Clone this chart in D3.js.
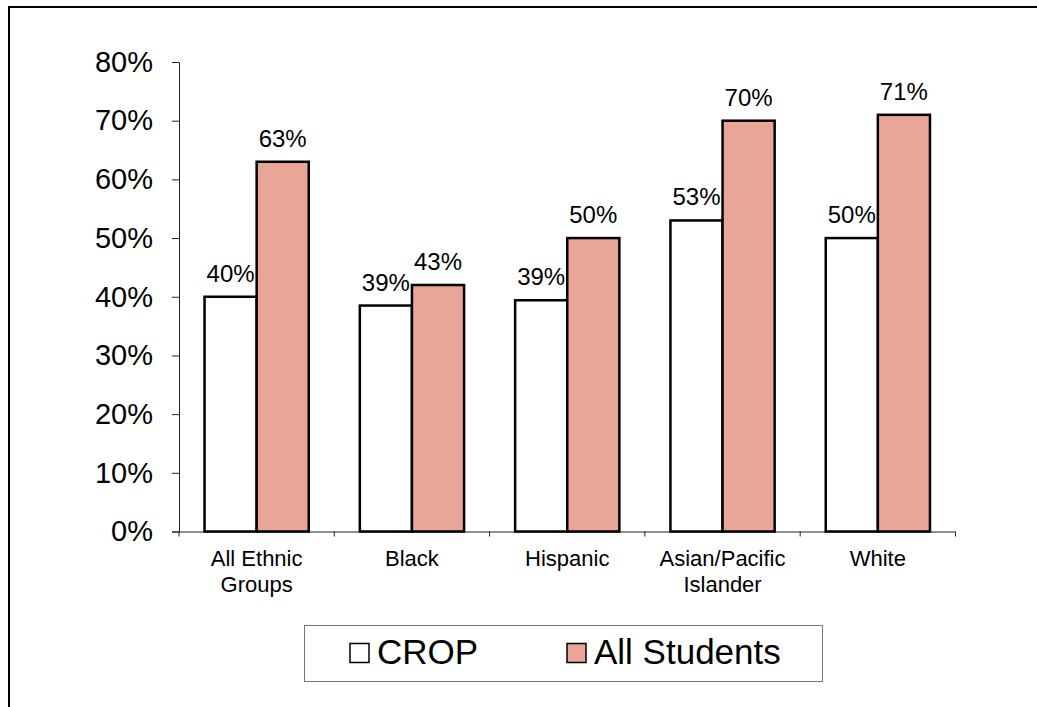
<!DOCTYPE html>
<html>
<head>
<meta charset="utf-8">
<script src="https://cdn.jsdelivr.net/npm/d3@7"></script>
<style>
  html, body { margin: 0; padding: 0; background: #fff; }
  svg { display: block; font-family: "Liberation Sans", Arial, sans-serif; }
</style>
</head>
<body>
<svg id="chart" width="1037" height="707"></svg>
<script>
const categories = [["All Ethnic", "Groups"], ["Black"], ["Hispanic"], ["Asian/Pacific", "Islander"], ["White"]];
const seriesNames = ["CROP", "All Students"];
const cropValues = [0.40, 0.385, 0.394, 0.53, 0.50];
const allStudentsValues = [0.63, 0.42, 0.50, 0.70, 0.71];
const cropLabels = ["40%", "39%", "39%", "53%", "50%"];
const allStudentsLabels = ["63%", "43%", "50%", "70%", "71%"];
const yTicks = [0, 0.1, 0.2, 0.3, 0.4, 0.5, 0.6, 0.7, 0.8];

const colors = { "CROP": "#ffffff", "All Students": "#E9A598" };

const svg = d3.select("#chart");

// outer frame (left and top edges visible)
svg.append("path")
  .attr("d", "M9,707 L9,7 L1037,7")
  .attr("fill", "none").attr("stroke", "#000").attr("stroke-width", 2);

const catKeys = categories.map(c => c.join(" "));
const x0 = d3.scaleBand().domain(catKeys).range([179, 955.5]).padding(0);
const x1 = d3.scaleBand().domain(seriesNames).range([0, x0.bandwidth()]).paddingInner(0).paddingOuter(0.49);
const y = d3.scaleLinear().domain([0, 0.8]).range([531.5, 62]);

// y axis
const yAxis = d3.axisLeft(y).tickValues(yTicks).tickFormat(d3.format(".0%")).tickSizeInner(7).tickSizeOuter(0).tickPadding(19);
const gy = svg.append("g").attr("transform", "translate(179,0)").call(yAxis);
gy.select(".domain").attr("stroke", "#222").attr("stroke-width", 1);
gy.selectAll(".tick line").attr("stroke", "#222");
gy.selectAll(".tick text").attr("font-size", 29).attr("fill", "#000")
  .attr("font-family", "'Liberation Sans', Arial, sans-serif");

// x axis
const xAxis = d3.axisBottom(x0).tickValues([]).tickSizeOuter(0);
const gx = svg.append("g").attr("transform", "translate(0,531.5)").call(xAxis);
gx.select(".domain").attr("stroke", "#222").attr("d", "M172,0.5H955.5");
// category boundary ticks
const bounds = catKeys.map(k => x0(k)).concat([x0.range()[1]]);
gx.selectAll("line.bt").data(bounds).enter().append("line")
  .attr("class", "bt")
  .attr("x1", d => d).attr("x2", d => d)
  .attr("y1", 0).attr("y2", 5)
  .attr("stroke", "#222");

// bars
const rows = catKeys.map((k, i) => ({
  key: k,
  items: [
    { s: "CROP", v: cropValues[i], label: cropLabels[i] },
    { s: "All Students", v: allStudentsValues[i], label: allStudentsLabels[i] }
  ]
}));

const groups = svg.append("g").selectAll("g").data(rows).enter().append("g")
  .attr("transform", d => `translate(${x0(d.key)},0)`);

groups.selectAll("rect").data(d => d.items).enter().append("rect")
  .attr("x", d => x1(d.s))
  .attr("y", d => y(d.v))
  .attr("width", x1.bandwidth())
  .attr("height", d => y(0) - y(d.v))
  .attr("fill", d => colors[d.s])
  .attr("stroke", "#000")
  .attr("stroke-width", 2.5);

groups.selectAll("text").data(d => d.items).enter().append("text")
  .attr("x", d => x1(d.s) + x1.bandwidth() / 2)
  .attr("y", d => y(d.v) - 15)
  .attr("text-anchor", "middle")
  .attr("font-size", 24)
  .attr("fill", "#000")
  .text(d => d.label);

// category labels
const catG = svg.append("g").selectAll("text").data(categories).enter().append("text")
  .attr("x", (d, i) => x0(catKeys[i]) + x0.bandwidth() / 2)
  .attr("y", 566)
  .attr("text-anchor", "middle")
  .attr("font-size", 22)
  .attr("fill", "#000");
catG.selectAll("tspan").data(d => d).enter().append("tspan")
  .attr("x", function() { return d3.select(this.parentNode).attr("x"); })
  .attr("dy", (d, i) => i === 0 ? 0 : 26)
  .text(d => d);

// legend
const lg = svg.append("g");
lg.append("rect").attr("x", 304.5).attr("y", 625.5).attr("width", 518).attr("height", 56)
  .attr("fill", "#fff").attr("stroke", "#777").attr("stroke-width", 1);
const legendItems = [
  { s: "CROP", x: 350 },
  { s: "All Students", x: 567 }
];
legendItems.forEach(it => {
  lg.append("rect").attr("x", it.x).attr("y", 643.5).attr("width", 19).attr("height", 19)
    .attr("fill", colors[it.s]).attr("stroke", "#000").attr("stroke-width", 1.5);
  lg.append("text").attr("x", it.x + 27).attr("y", 663.5)
    .attr("font-size", 35).attr("fill", "#000").text(it.s);
});
</script>
</body>
</html>
